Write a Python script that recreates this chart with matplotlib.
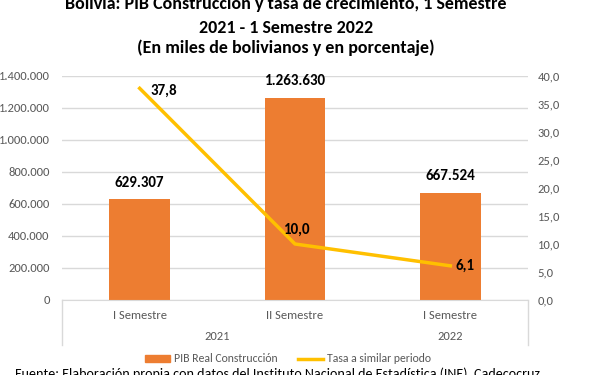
import matplotlib.pyplot as plt
import matplotlib.transforms as mtransforms
from matplotlib.lines import Line2D
import numpy as np

plt.rcParams['font.family'] = ['Carlito', 'Lato', 'DejaVu Sans']

semestres = ['I Semestre', 'II Semestre', 'I Semestre']
anios = ['2021', '2021', '2022']
pib = [629307, 1263630, 667524]
tasa = [37.8, 10.0, 6.1]
pib_labels = ['629.307', '1.263.630', '667.524']
tasa_labels = ['37,8', '10,0', '6,1']

c_bar = '#ED7D31'
c_line = '#FFC000'
c_grid = '#D9D9D9'
c_txt = '#595959'

fig = plt.figure(figsize=(5.91, 3.75), dpi=100)
ax = fig.add_axes([62/591, 1-300/375, 466/591, 224/375])
ax2 = ax.twinx()

x = np.arange(len(pib))
ax.bar(x, pib, width=0.39, color=c_bar, zorder=2)
ax.set_xlim(-0.5, 2.5)
ax.set_ylim(0, 1400000)
ax.set_yticks(np.arange(0, 1400001, 200000))
ax.set_yticklabels([f'{v:,}'.replace(',', '.') for v in range(0, 1400001, 200000)])
ax.yaxis.grid(True, color=c_grid, lw=1)
ax.set_axisbelow(True)
for s in ['top', 'right', 'left']:
    ax.spines[s].set_visible(False)
    ax2.spines[s].set_visible(False)
ax.spines['bottom'].set_color(c_grid)
ax2.spines['bottom'].set_visible(False)
ax.tick_params(axis='y', length=0, labelsize=9, labelcolor=c_txt, pad=9)
ax.set_xticks(x)
ax.set_xticklabels(semestres)
ax.tick_params(axis='x', length=0, labelsize=9, labelcolor=c_txt, pad=7)

for xi, v, lab in zip(x, pib, pib_labels):
    ax.annotate(lab, (xi, v), xytext=(0, 7), textcoords='offset points',
                ha='center', va='bottom', fontsize=10.8, fontweight='bold')

# year labels and group dividers
trans = mtransforms.blended_transform_factory(ax.transData, ax.transAxes)
for yr in sorted(set(anios)):
    idx = [i for i, a in enumerate(anios) if a == yr]
    ax.text(np.mean(idx), -0.165, yr, transform=trans, ha='center', va='center',
            fontsize=9, color=c_txt)
for xe in [0, 1]:
    ax.add_line(Line2D([xe, xe], [0, -0.2], transform=ax.transAxes, color=c_grid,
                       lw=1, clip_on=False))

ax2.plot(x, tasa, color=c_line, lw=2.5, zorder=3)
ax2.set_ylim(0, 40)
ax2.set_yticks(np.arange(0, 41, 5))
ax2.set_yticklabels([f'{v:.1f}'.replace('.', ',') for v in np.arange(0, 41, 5)])
ax2.tick_params(axis='y', length=0, labelsize=9, labelcolor=c_txt, pad=7)
offs = [(8, -2), (-8, 10), (4, 0)]
for xi, v, lab, o in zip(x, tasa, tasa_labels, offs):
    ax2.annotate(lab, (xi, v), xytext=o, textcoords='offset points',
                 ha='left', va='center', fontsize=10.8, fontweight='bold')

fig.text(0.484, 1-4/375, 'Bolivia: PIB Construcción y tasa de crecimiento, 1 Semestre',
         ha='center', va='center', fontsize=13, fontweight='bold')
fig.text(0.484, 1-28/375, '2021 - 1 Semestre 2022', ha='center', va='center',
         fontsize=13, fontweight='bold')
fig.text(0.484, 1-48/375, '(En miles de bolivianos y en porcentaje)', ha='center',
         va='center', fontsize=13, fontweight='bold')

handles = [plt.Rectangle((0, 0), 1, 1, color=c_bar),
           Line2D([0], [0], color=c_line, lw=2.5)]
fig.legend(handles, ['PIB Real Construcción', 'Tasa a similar periodo'],
           loc='center', bbox_to_anchor=(288/591, 1-359/375), ncol=2, frameon=False,
           fontsize=8.5, handlelength=2.1, handleheight=0.5, columnspacing=1.8,
           handletextpad=0.3, labelcolor=c_txt)

fig.text(15/591, 1-367/375,
         'Fuente: Elaboración propia con datos del Instituto Nacional de Estadística (INE), Cadecocruz',
         ha='left', va='top', fontsize=10.1)

fig.savefig('out.png', dpi=100)
